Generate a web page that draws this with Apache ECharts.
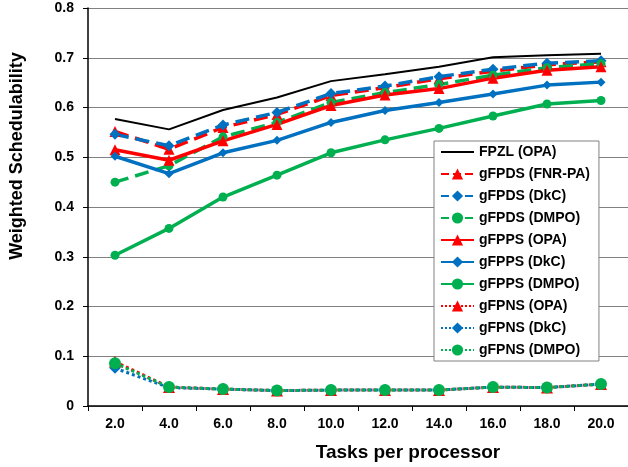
<!DOCTYPE html>
<html>
<head>
<meta charset="utf-8">
<script src="https://cdn.jsdelivr.net/npm/echarts@6/dist/echarts.min.js"></script>
<style>html,body{margin:0;padding:0;background:#fff;}#c{width:628px;height:467px;}</style>
</head>
<body>
<div id="c"></div>
<script>
var categories = ['2.0','4.0','6.0','8.0','10.0','12.0','14.0','16.0','18.0','20.0'];
var yTicks = [0, 0.1, 0.2, 0.3, 0.4, 0.5, 0.6, 0.7, 0.8];

var fpzlOPA      = [0.577, 0.556, 0.595, 0.620, 0.653, 0.667, 0.682, 0.701, 0.705, 0.708];
var gfpdsFNRPA   = [0.552, 0.516, 0.560, 0.586, 0.624, 0.640, 0.658, 0.673, 0.686, 0.692];
var gfpdsDkC     = [0.546, 0.523, 0.565, 0.590, 0.628, 0.643, 0.662, 0.677, 0.689, 0.694];
var gfpdsDMPO    = [0.450, 0.483, 0.541, 0.570, 0.610, 0.630, 0.646, 0.665, 0.680, 0.688];
var gfppsOPA     = [0.515, 0.494, 0.533, 0.566, 0.604, 0.625, 0.638, 0.659, 0.675, 0.682];
var gfppsDkC     = [0.502, 0.467, 0.509, 0.534, 0.570, 0.594, 0.610, 0.627, 0.645, 0.651];
var gfppsDMPO    = [0.303, 0.357, 0.420, 0.464, 0.509, 0.535, 0.558, 0.583, 0.607, 0.614];
var gfpnsOPA     = [0.089, 0.038, 0.034, 0.031, 0.032, 0.032, 0.032, 0.038, 0.037, 0.044];
var gfpnsDkC     = [0.076, 0.037, 0.034, 0.031, 0.032, 0.032, 0.032, 0.038, 0.037, 0.044];
var gfpnsDMPO    = [0.086, 0.038, 0.034, 0.031, 0.032, 0.032, 0.032, 0.038, 0.037, 0.044];

var RED = '#FF0000', BLUE = '#0070C0', GREEN = '#00B050';
var FONT = 'Liberation Sans';

function s(name, data, color, type, width, symbol, size) {
  return {
    name: name, type: 'line', data: data,
    symbol: symbol, symbolSize: size, showSymbol: symbol !== 'none',
    lineStyle: {color: color, width: width, type: type},
    itemStyle: {color: color},
    emphasis: {disabled: true},
    animation: false
  };
}

var series = [
  s('FPZL (OPA)', fpzlOPA, '#000000', 'solid', 2, 'none', 0),
  s('gFPDS (FNR-PA)', gfpdsFNRPA, RED, 'dashed', 3.5, 'triangle', 11),
  s('gFPDS (DkC)', gfpdsDkC, BLUE, 'dashed', 3.5, 'diamond', 11),
  s('gFPDS (DMPO)', gfpdsDMPO, GREEN, 'dashed', 3.5, 'circle', 9),
  s('gFPPS (OPA)', gfppsOPA, RED, 'solid', 3.5, 'triangle', 11),
  s('gFPPS (DkC)', gfppsDkC, BLUE, 'solid', 3.5, 'diamond', 9),
  s('gFPPS (DMPO)', gfppsDMPO, GREEN, 'solid', 3.5, 'circle', 9),
  s('gFPNS (OPA)', gfpnsOPA, RED, 'dotted', 3, 'triangle', 12),
  s('gFPNS (DkC)', gfpnsDkC, BLUE, 'dotted', 3, 'diamond', 11),
  s('gFPNS (DMPO)', gfpnsDMPO, GREEN, 'dotted', 3, 'circle', 12)
];

var legendData = series.map(function (x, i) {
  return i === 0 ? {name: x.name, itemStyle: {opacity: 0}} : {name: x.name};
});

var chart = echarts.init(document.getElementById('c'), null, {renderer: 'canvas'});
chart.setOption({
  backgroundColor: '#ffffff',
  animation: false,
  textStyle: {fontFamily: FONT},
  grid: {left: 88, right: 0, top: 8, bottom: 61, containLabel: false},
  legend: {
    orient: 'vertical', left: 434, top: 141,
    padding: [4, 9, 4, 6],
    itemWidth: 33, itemHeight: 14, itemGap: 8,
    backgroundColor: '#ffffff', borderColor: '#808080', borderWidth: 1,
    textStyle: {fontFamily: FONT, fontWeight: 'bold', fontSize: 14, color: '#000'},
    data: legendData
  },
  xAxis: {
    type: 'category', data: categories, boundaryGap: true,
    name: 'Tasks per processor', nameLocation: 'middle', nameGap: 37,
    nameTextStyle: {fontFamily: FONT, fontWeight: 'bold', fontSize: 19, color: '#000', padding: [0, 0, 0, 100]},
    axisLine: {lineStyle: {color: '#000', width: 1.5}},
    axisTick: {show: true, length: 5, lineStyle: {color: '#000'}},
    axisLabel: {fontFamily: FONT, fontWeight: 'bold', fontSize: 14, color: '#000', margin: 11},
    splitLine: {show: false}
  },
  yAxis: {
    type: 'value', min: yTicks[0], max: yTicks[yTicks.length - 1], interval: 0.1,
    name: 'Weighted Schedulability', nameLocation: 'middle', nameGap: 62, nameRotate: 90,
    nameTextStyle: {fontFamily: FONT, fontWeight: 'bold', fontSize: 18, color: '#000', padding: [0, 0, 0, 102]},
    axisLine: {show: true, lineStyle: {color: '#000', width: 1.5}},
    axisTick: {show: true, length: 5, lineStyle: {color: '#000'}},
    axisLabel: {fontFamily: FONT, fontWeight: 'bold', fontSize: 14, color: '#000', margin: 14,
      formatter: function (v) { return v === 0 ? '0' : v.toFixed(1); }},
    splitLine: {show: true, lineStyle: {color: '#808080', width: 1}}
  },
  series: series
});
</script>
</body>
</html>
